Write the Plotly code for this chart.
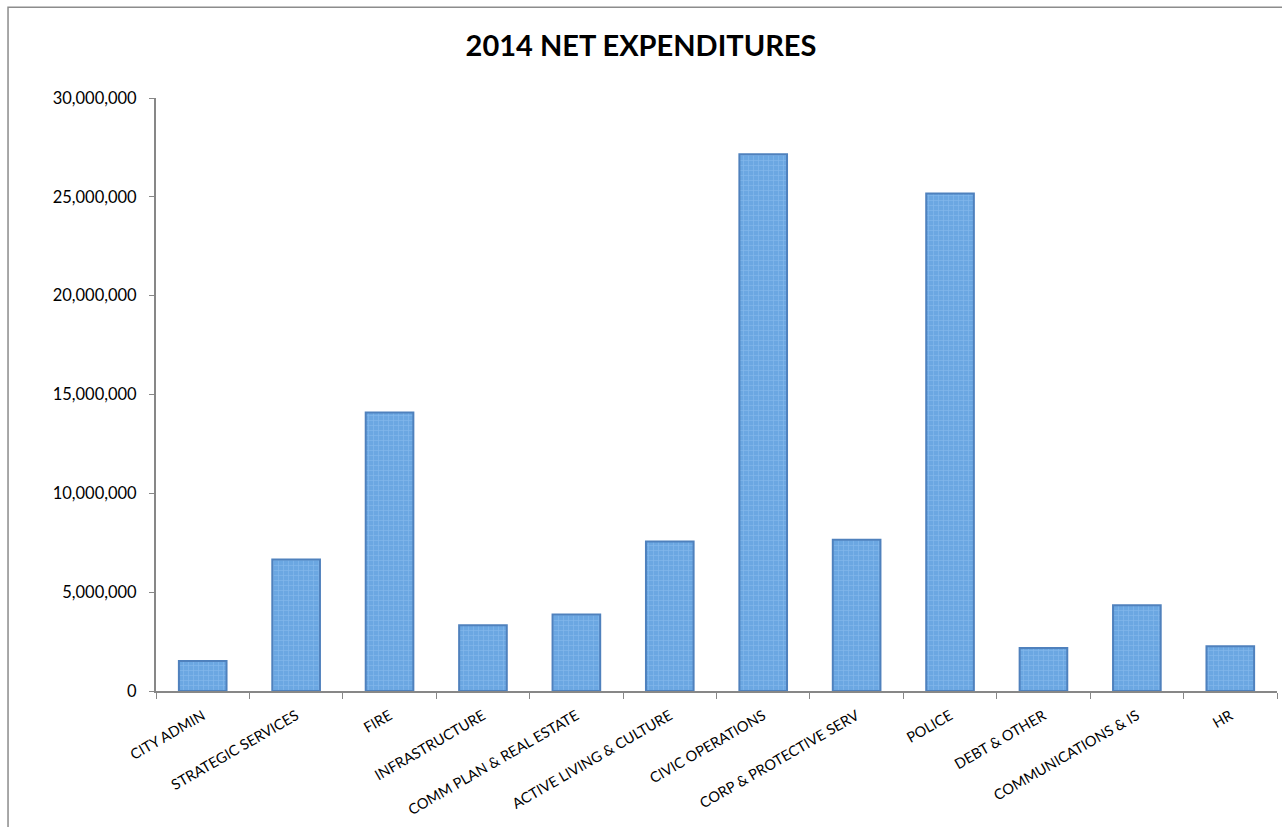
import plotly.graph_objects as go

# Net expenditures by department, 2014
departments = [
    "CITY ADMIN", "STRATEGIC SERVICES", "FIRE", "INFRASTRUCTURE",
    "COMM PLAN & REAL ESTATE", "ACTIVE LIVING & CULTURE", "CIVIC OPERATIONS",
    "CORP & PROTECTIVE SERV", "POLICE", "DEBT & OTHER",
    "COMMUNICATIONS & IS", "HR",
]
net_expenditures = [
    1520000, 6650000, 14090000, 3320000,
    3870000, 7560000, 27160000,
    7650000, 25170000, 2170000,
    4340000, 2260000,
]
y_ticks = [0, 5000000, 10000000, 15000000, 20000000, 25000000, 30000000]

FONT = "Lato, 'Open Sans', sans-serif"
AXIS_GREY = "#878787"

fig = go.Figure(
    go.Bar(
        x=departments,
        y=net_expenditures,
        marker=dict(
            color="#6ba7e2",
            line=dict(color="#4f81bd", width=2),
            pattern=dict(shape="+", fgcolor="#9cc8f2", bgcolor="#6ba7e2",
                         size=5, solidity=0.25),
        ),
        hoverinfo="x+y",
    )
)

fig.update_layout(
    width=1282,
    height=827,
    margin=dict(l=156, r=5, t=98, b=136),
    paper_bgcolor="white",
    plot_bgcolor="white",
    showlegend=False,
    bargap=0.49,
    title=dict(
        text="<b>2014 NET EXPENDITURES</b>",
        x=0.5, xanchor="center",
        y=0.945, yanchor="middle",
        font=dict(family=FONT, size=29, color="#000000"),
    ),
    font=dict(family=FONT, size=16, color="#000000"),
)

fig.update_yaxes(
    range=[0, 30000000],
    tickvals=y_ticks,
    tickformat=",d",
    showgrid=False,
    zeroline=False,
    showline=True,
    linecolor=AXIS_GREY,
    linewidth=2,
    ticks="outside",
    ticklen=5,
    tickcolor=AXIS_GREY,
    tickwidth=1,
    ticklabelstandoff=9,
    tickfont=dict(family=FONT, size=16.5, color="#000000"),
)

fig.update_xaxes(
    showgrid=False,
    showline=True,
    linecolor=AXIS_GREY,
    linewidth=2,
    ticks="outside",
    tickson="boundaries",
    ticklen=6,
    tickcolor=AXIS_GREY,
    tickwidth=1,
    tickangle=-30,
    ticklabelstandoff=9,
    tickfont=dict(family=FONT, size=14.5, color="#000000"),
)

# Chart frame (top and left edges of the chart area border)
fig.add_shape(
    type="rect", xref="paper", yref="paper",
    x0=-0.132, x1=1.02, y0=-0.3, y1=1.153,
    line=dict(color="#8c8c8c", width=1.5),
    fillcolor="rgba(0,0,0,0)",
    layer="below",
)

fig.write_html("out.html")
